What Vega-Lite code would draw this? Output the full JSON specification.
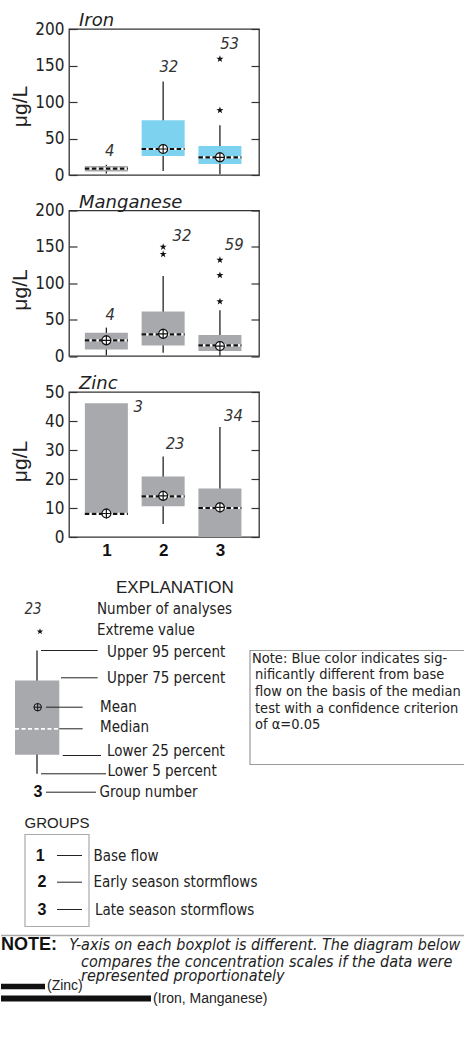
{
  "$schema": "https://vega.github.io/schema/vega-lite/v6.json",
  "padding": {"top": 11, "left": 0, "right": 0, "bottom": 0},
  "bounds": "flush",
  "spacing": 35.5,
  "config": {
    "view": {"stroke": "#333", "strokeWidth": 1.3},
    "axis": {"grid": false}
  },
  "datasets": {
    "iron": [
      {"group": 1, "p5": 2, "q1": 4.7, "median": 8.8, "mean": null, "q3": 12.3, "p95": 14, "n": "4", "significant": "no", "lx": 1.06, "ly": 33},
      {"group": 2, "p5": 5.5, "q1": 26, "median": 35.6, "mean": 35.6, "q3": 75, "p95": 128, "n": "32", "significant": "yes", "lx": 2.1, "ly": 148},
      {"group": 3, "p5": 1, "q1": 15, "median": 24.2, "mean": 24.2, "q3": 39.7, "p95": 68, "n": "53", "significant": "yes", "lx": 3.17, "ly": 180}
    ],
    "iron_out": [{"group": 3, "value": 88.6}, {"group": 3, "value": 159}],
    "mn": [
      {"group": 1, "p5": 1, "q1": 9.1, "median": 21.5, "mean": 21.5, "q3": 32.1, "p95": 39, "n": "4", "significant": "no", "lx": 1.07, "ly": 57},
      {"group": 2, "p5": 4.5, "q1": 14.6, "median": 29.8, "mean": 30.5, "q3": 61, "p95": 110, "n": "32", "significant": "no", "lx": 2.33, "ly": 165},
      {"group": 3, "p5": 0.5, "q1": 7, "median": 14.6, "mean": 13.7, "q3": 29, "p95": 63, "n": "59", "significant": "no", "lx": 3.25, "ly": 153}
    ],
    "mn_out": [{"group": 2, "value": 150}, {"group": 2, "value": 140}, {"group": 3, "value": 132}, {"group": 3, "value": 111}, {"group": 3, "value": 75}],
    "zinc": [
      {"group": 1, "p5": null, "q1": 7.7, "median": 8, "mean": 8.1, "q3": 46.1, "p95": null, "n": "3", "significant": "no", "lx": 1.56, "ly": 45},
      {"group": 2, "p5": 4.5, "q1": 10.6, "median": 14, "mean": 14.2, "q3": 20.9, "p95": 27.8, "n": "23", "significant": "no", "lx": 2.21, "ly": 31.9},
      {"group": 3, "p5": 0, "q1": 0, "median": 10, "mean": 10.2, "q3": 16.7, "p95": 37.9, "n": "34", "significant": "no", "lx": 3.24, "ly": 41.6}
    ]
  },
  "vconcat": [
    {
      "width": 190, "height": 146,
      "title": {"text": "Iron", "anchor": "start", "frame": "group", "dx": 10, "offset": -24, "font": "DejaVu Sans", "fontSize": 18, "fontStyle": "italic", "fontWeight": "normal", "color": "#222", "baseline": "alphabetic"},
      "resolve": {"axis": {"y": "independent"}},
      "layer": [
        {"data": {"name": "iron"}, "mark": {"type": "rule", "color": "#222", "strokeWidth": 1.3},
         "encoding": {
           "x": {"field": "group", "type": "quantitative", "scale": {"domain": [0.43, 3.6], "nice": false, "zero": false}, "axis": null},
           "y": {"field": "p5", "type": "quantitative", "scale": {"domain": [0, 200], "nice": false, "zero": false},
                 "axis": {"title": "μg/L", "orient": "left", "values": [0, 50, 100, 150, 200], "domain": false, "tickSize": -8, "tickColor": "#333", "tickWidth": 1.2, "labelPadding": 13, "labelFont": "Liberation Sans Narrow, Arial Narrow, DejaVu Sans Condensed, sans-serif", "labelFontSize": 17, "labelColor": "#222", "labelFlush": false, "titleFont": "Liberation Sans", "titleFontSize": 21, "titleFontWeight": "normal", "titleColor": "#222", "titleX": -49, "titleY": 77, "titleAngle": -90, "titleBaseline": "middle", "titleAlign": "center"}},
           "y2": {"field": "p95"}}},
        {"data": {"name": "iron"}, "mark": {"type": "bar", "size": 43, "orient": "vertical"},
         "encoding": {
           "x": {"field": "group", "type": "quantitative", "scale": {"domain": [0.43, 3.6], "nice": false, "zero": false}, "axis": null},
           "y": {"field": "q1", "type": "quantitative", "scale": {"domain": [0, 200], "nice": false, "zero": false}, "axis": null},
           "y2": {"field": "q3"},
           "color": {"field": "significant", "type": "nominal", "scale": {"domain": ["no", "yes"], "range": ["#a7a9ac", "#7dd3ef"]}, "legend": null}}},
        {"data": {"name": "iron"}, "mark": {"type": "rule", "color": "white", "strokeWidth": 2.2, "xOffset": -21.5, "x2Offset": 21.5},
         "encoding": {
           "x": {"field": "group", "type": "quantitative", "scale": {"domain": [0.43, 3.6], "nice": false, "zero": false}, "axis": null},
           "x2": {"field": "group"},
           "y": {"field": "median", "type": "quantitative", "scale": {"domain": [0, 200], "nice": false, "zero": false}, "axis": null}}},
        {"data": {"name": "iron"}, "mark": {"type": "rule", "color": "#111", "strokeWidth": 2.2, "strokeDash": [4.5, 2.5], "xOffset": -21.5, "x2Offset": 21.5},
         "encoding": {
           "x": {"field": "group", "type": "quantitative", "scale": {"domain": [0.43, 3.6], "nice": false, "zero": false}, "axis": null},
           "x2": {"field": "group"},
           "y": {"field": "median", "type": "quantitative", "scale": {"domain": [0, 200], "nice": false, "zero": false}, "axis": null}}},
        {"data": {"name": "iron"}, "mark": {"type": "point", "shape": "circle", "size": 80, "filled": true, "fill": "white", "stroke": "#111", "strokeWidth": 1.2, "opacity": 1},
         "encoding": {
           "x": {"field": "group", "type": "quantitative", "scale": {"domain": [0.43, 3.6], "nice": false, "zero": false}, "axis": null},
           "y": {"field": "mean", "type": "quantitative", "scale": {"domain": [0, 200], "nice": false, "zero": false}, "axis": null}}},
        {"data": {"name": "iron"}, "mark": {"type": "point", "shape": "M-1,0L1,0M0,-1L0,1", "size": 100, "filled": false, "stroke": "#111", "strokeWidth": 1.2, "opacity": 1},
         "encoding": {
           "x": {"field": "group", "type": "quantitative", "scale": {"domain": [0.43, 3.6], "nice": false, "zero": false}, "axis": null},
           "y": {"field": "mean", "type": "quantitative", "scale": {"domain": [0, 200], "nice": false, "zero": false}, "axis": null}}},
        {"data": {"name": "iron_out"}, "mark": {"type": "point", "shape": "M0,-1L0.235,-0.324L0.951,-0.309L0.38,0.124L0.588,0.809L0,0.4L-0.588,0.809L-0.38,0.124L-0.951,-0.309L-0.235,-0.324Z", "size": 55, "filled": true, "color": "#111", "opacity": 1},
         "encoding": {
           "x": {"field": "group", "type": "quantitative", "scale": {"domain": [0.43, 3.6], "nice": false, "zero": false}, "axis": null},
           "y": {"field": "value", "type": "quantitative", "scale": {"domain": [0, 200], "nice": false, "zero": false},
                 "axis": {"orient": "right", "values": [0, 50, 100, 150, 200], "labels": false, "domain": false, "tickSize": -8, "tickColor": "#333", "tickWidth": 1.2, "title": null}}}},
        {"data": {"name": "iron"}, "mark": {"type": "text", "font": "Liberation Sans Narrow, Arial Narrow, DejaVu Sans Condensed, sans-serif", "fontSize": 16.5, "fontStyle": "italic", "color": "#333", "align": "center", "baseline": "middle"},
         "encoding": {
           "x": {"field": "lx", "type": "quantitative", "scale": {"domain": [0.43, 3.6], "nice": false, "zero": false}, "axis": null},
           "y": {"field": "ly", "type": "quantitative", "scale": {"domain": [0, 200], "nice": false, "zero": false}, "axis": null},
           "text": {"field": "n"}}}
      ]
    },
    {
      "width": 190, "height": 145.5,
      "title": {"text": "Manganese", "anchor": "start", "frame": "group", "dx": 10, "offset": -24, "font": "DejaVu Sans", "fontSize": 18, "fontStyle": "italic", "fontWeight": "normal", "color": "#222", "baseline": "alphabetic"},
      "resolve": {"axis": {"y": "independent"}},
      "layer": [
        {"data": {"name": "mn"}, "mark": {"type": "rule", "color": "#222", "strokeWidth": 1.3},
         "encoding": {
           "x": {"field": "group", "type": "quantitative", "scale": {"domain": [0.43, 3.6], "nice": false, "zero": false}, "axis": null},
           "y": {"field": "p5", "type": "quantitative", "scale": {"domain": [0, 200], "nice": false, "zero": false},
                 "axis": {"title": "μg/L", "orient": "left", "values": [0, 50, 100, 150, 200], "domain": false, "tickSize": -8, "tickColor": "#333", "tickWidth": 1.2, "labelPadding": 13, "labelFont": "Liberation Sans Narrow, Arial Narrow, DejaVu Sans Condensed, sans-serif", "labelFontSize": 17, "labelColor": "#222", "labelFlush": false, "titleFont": "Liberation Sans", "titleFontSize": 21, "titleFontWeight": "normal", "titleColor": "#222", "titleX": -49, "titleY": 79, "titleAngle": -90, "titleBaseline": "middle", "titleAlign": "center"}},
           "y2": {"field": "p95"}}},
        {"data": {"name": "mn"}, "mark": {"type": "bar", "size": 43, "orient": "vertical"},
         "encoding": {
           "x": {"field": "group", "type": "quantitative", "scale": {"domain": [0.43, 3.6], "nice": false, "zero": false}, "axis": null},
           "y": {"field": "q1", "type": "quantitative", "scale": {"domain": [0, 200], "nice": false, "zero": false}, "axis": null},
           "y2": {"field": "q3"},
           "color": {"field": "significant", "type": "nominal", "scale": {"domain": ["no", "yes"], "range": ["#a7a9ac", "#7dd3ef"]}, "legend": null}}},
        {"data": {"name": "mn"}, "mark": {"type": "rule", "color": "white", "strokeWidth": 2.2, "xOffset": -21.5, "x2Offset": 21.5},
         "encoding": {
           "x": {"field": "group", "type": "quantitative", "scale": {"domain": [0.43, 3.6], "nice": false, "zero": false}, "axis": null},
           "x2": {"field": "group"},
           "y": {"field": "median", "type": "quantitative", "scale": {"domain": [0, 200], "nice": false, "zero": false}, "axis": null}}},
        {"data": {"name": "mn"}, "mark": {"type": "rule", "color": "#111", "strokeWidth": 2.2, "strokeDash": [4.5, 2.5], "xOffset": -21.5, "x2Offset": 21.5},
         "encoding": {
           "x": {"field": "group", "type": "quantitative", "scale": {"domain": [0.43, 3.6], "nice": false, "zero": false}, "axis": null},
           "x2": {"field": "group"},
           "y": {"field": "median", "type": "quantitative", "scale": {"domain": [0, 200], "nice": false, "zero": false}, "axis": null}}},
        {"data": {"name": "mn"}, "mark": {"type": "point", "shape": "circle", "size": 80, "filled": true, "fill": "white", "stroke": "#111", "strokeWidth": 1.2, "opacity": 1},
         "encoding": {
           "x": {"field": "group", "type": "quantitative", "scale": {"domain": [0.43, 3.6], "nice": false, "zero": false}, "axis": null},
           "y": {"field": "mean", "type": "quantitative", "scale": {"domain": [0, 200], "nice": false, "zero": false}, "axis": null}}},
        {"data": {"name": "mn"}, "mark": {"type": "point", "shape": "M-1,0L1,0M0,-1L0,1", "size": 100, "filled": false, "stroke": "#111", "strokeWidth": 1.2, "opacity": 1},
         "encoding": {
           "x": {"field": "group", "type": "quantitative", "scale": {"domain": [0.43, 3.6], "nice": false, "zero": false}, "axis": null},
           "y": {"field": "mean", "type": "quantitative", "scale": {"domain": [0, 200], "nice": false, "zero": false}, "axis": null}}},
        {"data": {"name": "mn_out"}, "mark": {"type": "point", "shape": "M0,-1L0.235,-0.324L0.951,-0.309L0.38,0.124L0.588,0.809L0,0.4L-0.588,0.809L-0.38,0.124L-0.951,-0.309L-0.235,-0.324Z", "size": 55, "filled": true, "color": "#111", "opacity": 1},
         "encoding": {
           "x": {"field": "group", "type": "quantitative", "scale": {"domain": [0.43, 3.6], "nice": false, "zero": false}, "axis": null},
           "y": {"field": "value", "type": "quantitative", "scale": {"domain": [0, 200], "nice": false, "zero": false},
                 "axis": {"orient": "right", "values": [0, 50, 100, 150, 200], "labels": false, "domain": false, "tickSize": -8, "tickColor": "#333", "tickWidth": 1.2, "title": null}}}},
        {"data": {"name": "mn"}, "mark": {"type": "text", "font": "Liberation Sans Narrow, Arial Narrow, DejaVu Sans Condensed, sans-serif", "fontSize": 16.5, "fontStyle": "italic", "color": "#333", "align": "center", "baseline": "middle"},
         "encoding": {
           "x": {"field": "lx", "type": "quantitative", "scale": {"domain": [0.43, 3.6], "nice": false, "zero": false}, "axis": null},
           "y": {"field": "ly", "type": "quantitative", "scale": {"domain": [0, 200], "nice": false, "zero": false}, "axis": null},
           "text": {"field": "n"}}}
      ]
    },
    {
      "width": 190, "height": 145,
      "title": {"text": "Zinc", "anchor": "start", "frame": "group", "dx": 10, "offset": -24, "font": "DejaVu Sans", "fontSize": 18, "fontStyle": "italic", "fontWeight": "normal", "color": "#222", "baseline": "alphabetic"},
      "resolve": {"axis": {"y": "independent"}},
      "layer": [
        {"data": {"name": "zinc"}, "mark": {"type": "rule", "color": "#222", "strokeWidth": 1.3},
         "encoding": {
           "x": {"field": "group", "type": "quantitative", "scale": {"domain": [0.43, 3.6], "nice": false, "zero": false},
                 "axis": {"values": [1, 2, 3], "format": "d", "domain": false, "ticks": false, "labelFont": "Liberation Sans", "labelFontWeight": "bold", "labelFontSize": 17, "labelColor": "#111", "labelPadding": 5, "labelFlush": false, "title": null}},
           "y": {"field": "p5", "type": "quantitative", "scale": {"domain": [0, 50], "nice": false, "zero": false},
                 "axis": {"title": "μg/L", "orient": "left", "values": [0, 10, 20, 30, 40, 50], "domain": false, "tickSize": -8, "tickColor": "#333", "tickWidth": 1.2, "labelPadding": 13, "labelFont": "Liberation Sans Narrow, Arial Narrow, DejaVu Sans Condensed, sans-serif", "labelFontSize": 17, "labelColor": "#222", "labelFlush": false, "titleFont": "Liberation Sans", "titleFontSize": 21, "titleFontWeight": "normal", "titleColor": "#222", "titleX": -49, "titleY": 69, "titleAngle": -90, "titleBaseline": "middle", "titleAlign": "center"}},
           "y2": {"field": "p95"}}},
        {"data": {"name": "zinc"}, "mark": {"type": "bar", "size": 43, "orient": "vertical"},
         "encoding": {
           "x": {"field": "group", "type": "quantitative", "scale": {"domain": [0.43, 3.6], "nice": false, "zero": false},
                 "axis": {"values": [1, 2, 3], "format": "d", "domain": false, "ticks": false, "labelFont": "Liberation Sans", "labelFontWeight": "bold", "labelFontSize": 17, "labelColor": "#111", "labelPadding": 5, "labelFlush": false, "title": null}},
           "y": {"field": "q1", "type": "quantitative", "scale": {"domain": [0, 50], "nice": false, "zero": false}, "axis": null},
           "y2": {"field": "q3"},
           "color": {"field": "significant", "type": "nominal", "scale": {"domain": ["no", "yes"], "range": ["#a7a9ac", "#7dd3ef"]}, "legend": null}}},
        {"data": {"name": "zinc"}, "mark": {"type": "rule", "color": "white", "strokeWidth": 2.2, "xOffset": -21.5, "x2Offset": 21.5},
         "encoding": {
           "x": {"field": "group", "type": "quantitative", "scale": {"domain": [0.43, 3.6], "nice": false, "zero": false},
                 "axis": {"values": [1, 2, 3], "format": "d", "domain": false, "ticks": false, "labelFont": "Liberation Sans", "labelFontWeight": "bold", "labelFontSize": 17, "labelColor": "#111", "labelPadding": 5, "labelFlush": false, "title": null}},
           "x2": {"field": "group"},
           "y": {"field": "median", "type": "quantitative", "scale": {"domain": [0, 50], "nice": false, "zero": false}, "axis": null}}},
        {"data": {"name": "zinc"}, "mark": {"type": "rule", "color": "#111", "strokeWidth": 2.2, "strokeDash": [4.5, 2.5], "xOffset": -21.5, "x2Offset": 21.5},
         "encoding": {
           "x": {"field": "group", "type": "quantitative", "scale": {"domain": [0.43, 3.6], "nice": false, "zero": false},
                 "axis": {"values": [1, 2, 3], "format": "d", "domain": false, "ticks": false, "labelFont": "Liberation Sans", "labelFontWeight": "bold", "labelFontSize": 17, "labelColor": "#111", "labelPadding": 5, "labelFlush": false, "title": null}},
           "x2": {"field": "group"},
           "y": {"field": "median", "type": "quantitative", "scale": {"domain": [0, 50], "nice": false, "zero": false}, "axis": null}}},
        {"data": {"name": "zinc"}, "mark": {"type": "point", "shape": "circle", "size": 80, "filled": true, "fill": "white", "stroke": "#111", "strokeWidth": 1.2, "opacity": 1},
         "encoding": {
           "x": {"field": "group", "type": "quantitative", "scale": {"domain": [0.43, 3.6], "nice": false, "zero": false},
                 "axis": {"values": [1, 2, 3], "format": "d", "domain": false, "ticks": false, "labelFont": "Liberation Sans", "labelFontWeight": "bold", "labelFontSize": 17, "labelColor": "#111", "labelPadding": 5, "labelFlush": false, "title": null}},
           "y": {"field": "mean", "type": "quantitative", "scale": {"domain": [0, 50], "nice": false, "zero": false},
                 "axis": {"orient": "right", "values": [0, 10, 20, 30, 40, 50], "labels": false, "domain": false, "tickSize": -8, "tickColor": "#333", "tickWidth": 1.2, "title": null}}}},
        {"data": {"name": "zinc"}, "mark": {"type": "point", "shape": "M-1,0L1,0M0,-1L0,1", "size": 100, "filled": false, "stroke": "#111", "strokeWidth": 1.2, "opacity": 1},
         "encoding": {
           "x": {"field": "group", "type": "quantitative", "scale": {"domain": [0.43, 3.6], "nice": false, "zero": false},
                 "axis": {"values": [1, 2, 3], "format": "d", "domain": false, "ticks": false, "labelFont": "Liberation Sans", "labelFontWeight": "bold", "labelFontSize": 17, "labelColor": "#111", "labelPadding": 5, "labelFlush": false, "title": null}},
           "y": {"field": "mean", "type": "quantitative", "scale": {"domain": [0, 50], "nice": false, "zero": false}, "axis": null}}},
        {"data": {"name": "zinc"}, "mark": {"type": "text", "font": "Liberation Sans Narrow, Arial Narrow, DejaVu Sans Condensed, sans-serif", "fontSize": 16.5, "fontStyle": "italic", "color": "#333", "align": "center", "baseline": "middle"},
         "encoding": {
           "x": {"field": "lx", "type": "quantitative", "scale": {"domain": [0.43, 3.6], "nice": false, "zero": false},
                 "axis": {"values": [1, 2, 3], "format": "d", "domain": false, "ticks": false, "labelFont": "Liberation Sans", "labelFontWeight": "bold", "labelFontSize": 17, "labelColor": "#111", "labelPadding": 5, "labelFlush": false, "title": null}},
           "y": {"field": "ly", "type": "quantitative", "scale": {"domain": [0, 50], "nice": false, "zero": false}, "axis": null},
           "text": {"field": "n"}}}
      ]
    },
    {
      "width": 396, "height": 477,
      "view": {"stroke": null},
      "encoding": {
        "x": {"field": "x", "type": "quantitative", "scale": {"domain": [68, 464], "nice": false, "zero": false}, "axis": null},
        "y": {"field": "y", "type": "quantitative", "scale": {"domain": [572, 1049], "reverse": true, "nice": false, "zero": false}, "axis": null}
      },
      "layer": [
        {"data": {"values": [{"x": 249, "x2": 470, "y": 650, "y2": 764}]},
         "mark": {"type": "rect", "fill": "white", "stroke": "#9a9a9a", "strokeWidth": 1.2},
         "encoding": {"x2": {"field": "x2"}, "y2": {"field": "y2"}}},
        {"data": {"values": [{"x": 24, "x2": 88, "y": 834, "y2": 926}]},
         "mark": {"type": "rect", "fill": null, "filled": false, "stroke": "#aaa", "strokeWidth": 1.2},
         "encoding": {"x2": {"field": "x2"}, "y2": {"field": "y2"}}},
        {"data": {"values": [{"x": 36, "y": 650, "y2": 773.3}]},
         "mark": {"type": "rule", "color": "#222", "strokeWidth": 1.3},
         "encoding": {"y2": {"field": "y2"}}},
        {"data": {"values": [{"x": 14, "x2": 58.3, "y": 680, "y2": 754.3}]},
         "mark": {"type": "rect", "fill": "#a7a9ac"},
         "encoding": {"x2": {"field": "x2"}, "y2": {"field": "y2"}}},
        {"data": {"values": [{"x": 14, "x2": 58.3, "y": 728.3}]},
         "mark": {"type": "rule", "color": "white", "strokeWidth": 1.8, "strokeDash": [4, 2.5]},
         "encoding": {"x2": {"field": "x2"}}},
        {"data": {"values": [
           {"x": 40, "x2": 96.7, "y": 650}, {"x": 60, "x2": 96.7, "y": 677.3}, {"x": 45, "x2": 81.7, "y": 706.7},
           {"x": 58.3, "x2": 81.7, "y": 728.3}, {"x": 61.7, "x2": 100, "y": 755}, {"x": 40, "x2": 105, "y": 773.3},
           {"x": 45, "x2": 95, "y": 791.7}, {"x": 56, "x2": 81, "y": 855}, {"x": 56, "x2": 81, "y": 881.7}, {"x": 56, "x2": 81, "y": 909}]},
         "mark": {"type": "rule", "color": "#222", "strokeWidth": 1},
         "encoding": {"x2": {"field": "x2"}}},
        {"data": {"values": [{"x": 0, "x2": 464, "y": 935}]},
         "mark": {"type": "rule", "color": "#aaa", "strokeWidth": 1.5},
         "encoding": {"x2": {"field": "x2"}}},
        {"data": {"values": [{"x": 0, "x2": 44, "y": 983.3, "y2": 988.7}, {"x": 0, "x2": 150, "y": 995, "y2": 1001}]},
         "mark": {"type": "rect", "fill": "#111"},
         "encoding": {"x2": {"field": "x2"}, "y2": {"field": "y2"}}},
        {"data": {"values": [{"x": 36.7, "y": 706.7}]},
         "mark": {"type": "point", "shape": "circle", "size": 55, "filled": false, "stroke": "#111", "strokeWidth": 1, "opacity": 1}},
        {"data": {"values": [{"x": 36.7, "y": 706.7}]},
         "mark": {"type": "point", "shape": "M-1,0L1,0M0,-1L0,1", "size": 64, "filled": false, "stroke": "#111", "strokeWidth": 1, "opacity": 1}},
        {"data": {"values": [{"x": 39, "y": 631}]},
         "mark": {"type": "point", "shape": "M0,-1L0.235,-0.324L0.951,-0.309L0.38,0.124L0.588,0.809L0,0.4L-0.588,0.809L-0.38,0.124L-0.951,-0.309L-0.235,-0.324Z", "size": 45, "filled": true, "color": "#111", "opacity": 1}},
        {"data": {"values": [
           {"text": "Number of analyses", "x": 96, "y": 608.5}, {"text": "Extreme value", "x": 96, "y": 629.5},
           {"text": "Upper 95 percent", "x": 106, "y": 651}, {"text": "Upper 75 percent", "x": 106, "y": 677},
           {"text": "Mean", "x": 99, "y": 706}, {"text": "Median", "x": 99, "y": 726},
           {"text": "Lower 25 percent", "x": 106, "y": 750.5}, {"text": "Lower 5 percent", "x": 106.5, "y": 770.5},
           {"text": "Group number", "x": 98.5, "y": 791.5},
           {"text": "Base flow", "x": 92.5, "y": 855}, {"text": "Early season stormflows", "x": 92.5, "y": 881.5}, {"text": "Late season stormflows", "x": 94, "y": 909}]},
         "mark": {"type": "text", "align": "left", "baseline": "middle", "font": "DejaVu Sans Condensed, Liberation Sans Narrow, sans-serif", "fontSize": 15, "color": "#222"},
         "encoding": {"text": {"field": "text"}}},
        {"data": {"values": [
           {"text": "Note:  Blue color indicates sig-", "x": 251, "y": 658}, {"text": "nificantly different from base", "x": 254, "y": 674.7},
           {"text": "flow on the basis of the median", "x": 254, "y": 691.3}, {"text": "test with a confidence criterion", "x": 254, "y": 708},
           {"text": "of α=0.05", "x": 254, "y": 724.7}]},
         "mark": {"type": "text", "align": "left", "baseline": "middle", "font": "DejaVu Sans Condensed, Liberation Sans Narrow, sans-serif", "fontSize": 14.5, "color": "#222"},
         "encoding": {"text": {"field": "text"}}},
        {"data": {"values": [{"text": "23", "x": 32, "y": 608}]},
         "mark": {"type": "text", "align": "center", "baseline": "middle", "font": "Liberation Sans Narrow, Arial Narrow, DejaVu Sans Condensed, sans-serif", "fontSize": 15, "fontStyle": "italic", "color": "#333"},
         "encoding": {"text": {"field": "text"}}},
        {"data": {"values": [{"text": "3", "x": 37, "y": 791.5}, {"text": "1", "x": 39.3, "y": 855}, {"text": "2", "x": 41, "y": 881.5}, {"text": "3", "x": 41, "y": 909}]},
         "mark": {"type": "text", "align": "center", "baseline": "middle", "font": "Liberation Sans", "fontSize": 16, "fontWeight": "bold", "color": "#111"},
         "encoding": {"text": {"field": "text"}}},
        {"data": {"values": [{"text": "EXPLANATION", "x": 115, "y": 587.5}]},
         "mark": {"type": "text", "align": "left", "baseline": "middle", "font": "Liberation Sans", "fontSize": 17, "color": "#222"},
         "encoding": {"text": {"field": "text"}}},
        {"data": {"values": [{"text": "GROUPS", "x": 23.5, "y": 822.5}]},
         "mark": {"type": "text", "align": "left", "baseline": "middle", "font": "Liberation Sans", "fontSize": 15, "color": "#222"},
         "encoding": {"text": {"field": "text"}}},
        {"data": {"values": [{"text": "(Zinc)", "x": 46, "y": 985.5}, {"text": "(Iron, Manganese)", "x": 152, "y": 998}]},
         "mark": {"type": "text", "align": "left", "baseline": "middle", "font": "Liberation Sans", "fontSize": 14, "color": "#222"},
         "encoding": {"text": {"field": "text"}}},
        {"data": {"values": [{"text": "NOTE:", "x": 0, "y": 944}]},
         "mark": {"type": "text", "align": "left", "baseline": "middle", "font": "Liberation Sans", "fontSize": 18, "fontWeight": "bold", "color": "#111"},
         "encoding": {"text": {"field": "text"}}},
        {"data": {"values": [
           {"text": "Y-axis on each boxplot is different. The diagram below", "x": 68.3, "y": 944},
           {"text": "compares the concentration scales if the data were", "x": 80, "y": 961},
           {"text": "represented proportionately", "x": 80, "y": 975.5}]},
         "mark": {"type": "text", "align": "left", "baseline": "middle", "font": "DejaVu Sans Condensed, Liberation Sans Narrow, sans-serif", "fontSize": 16, "fontStyle": "italic", "color": "#222"},
         "encoding": {"text": {"field": "text"}}}
      ]
    }
  ]
}
